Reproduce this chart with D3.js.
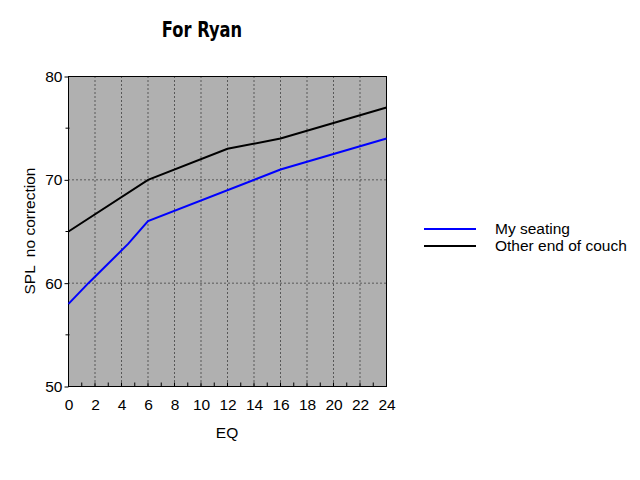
<!DOCTYPE html>
<html>
<head>
<meta charset="utf-8">
<script src="https://cdn.jsdelivr.net/npm/d3@7"></script>
<style>
  body { margin: 0; background: #fff; }
  svg text { font-family: "Liberation Sans", Arial, sans-serif; }
  .title { font-family: "DejaVu Sans", sans-serif; }
</style>
</head>
<body>
<div id="chart"></div>
<script>
// Data
const seatingEQ  = [0, 1.5, 4.5, 6, 16, 24];
const seatingSPL = [58, 60, 63.8, 66, 71, 74];
const couchEQ    = [0, 6, 12, 16, 24];
const couchSPL   = [65, 70, 73, 74, 77];
const seriesNames = ["My seating", "Other end of couch"];
const xTicks = [0, 2, 4, 6, 8, 10, 12, 14, 16, 18, 20, 22, 24];
const yTicks = [50, 60, 70, 80];

const W = 640, H = 480;
const pL = 68.5, pR = 386.5, pT = 76.5, pB = 386.5;

const svg = d3.select("#chart").append("svg").attr("width", W).attr("height", H);

const xS = d3.scaleLinear().domain([0, 24]).range([pL, pR]);
const yS = d3.scaleLinear().domain([50, 80]).range([pB, pT]);

// plot background
svg.append("rect").attr("x", pL).attr("y", pT).attr("width", pR - pL).attr("height", pB - pT)
   .attr("fill", "#b0b0b0");

// dotted grid
xTicks.slice(1, -1).forEach(t => {
  svg.append("line").attr("x1", xS(t)).attr("x2", xS(t)).attr("y1", pT).attr("y2", pB)
     .attr("stroke", "#000").attr("stroke-width", 1).attr("stroke-dasharray", "1,3");
});
yTicks.slice(1, -1).forEach(t => {
  svg.append("line").attr("x1", pL).attr("x2", pR).attr("y1", yS(t)).attr("y2", yS(t))
     .attr("stroke", "#000").attr("stroke-width", 1).attr("stroke-dasharray", "1,3");
});

// border
svg.append("rect").attr("x", pL).attr("y", pT).attr("width", pR - pL).attr("height", pB - pT)
   .attr("fill", "none").attr("stroke", "#000").attr("stroke-width", 1);

// y axis
const yAxis = svg.append("g").attr("transform", `translate(${pL},0)`)
  .call(d3.axisLeft(yS).tickValues(yTicks).tickSize(4).tickPadding(2));
yAxis.select(".domain").remove();
yAxis.selectAll("text").attr("font-size", "15.5px").attr("fill", "#000")
     .attr("font-family", "Liberation Sans, Arial, sans-serif");
// minor y ticks
[55, 65, 75].forEach(t => {
  svg.append("line").attr("x1", pL - 3).attr("x2", pL + 1).attr("y1", yS(t)).attr("y2", yS(t))
     .attr("stroke", "#000");
});

// x axis
const xAxis = svg.append("g").attr("transform", `translate(0,${pB})`)
  .call(d3.axisBottom(xS).tickValues(xTicks).tickSize(0).tickPadding(12));
xAxis.select(".domain").remove();
xAxis.selectAll("text").attr("font-size", "15.5px").attr("fill", "#000")
     .attr("font-family", "Liberation Sans, Arial, sans-serif");
// minor x ticks (inside)
d3.range(1, 24).forEach(t => {
  svg.append("line").attr("x1", xS(t)).attr("x2", xS(t)).attr("y1", pB).attr("y2", pB - 4)
     .attr("stroke", "#000");
});

// lines
const line = d3.line().x(d => xS(d[0])).y(d => yS(d[1]));
const seating = seatingEQ.map((x, i) => [x, seatingSPL[i]]);
const couch   = couchEQ.map((x, i) => [x, couchSPL[i]]);
svg.append("path").datum(couch).attr("d", line).attr("fill", "none")
   .attr("stroke", "#000").attr("stroke-width", 2);
svg.append("path").datum(seating).attr("d", line).attr("fill", "none")
   .attr("stroke", "#0000ff").attr("stroke-width", 2);

// title (condensed look via horizontal squeeze)
svg.append("text").attr("class", "title")
   .attr("transform", "translate(202,37) scale(0.74,1)").attr("text-anchor", "middle")
   .attr("font-size", "22px").attr("font-weight", "bold").text("For Ryan");

// axis titles
svg.append("text").attr("x", 227).attr("y", 438).attr("text-anchor", "middle")
   .attr("font-size", "15.5px").text("EQ");
svg.append("text").attr("transform", `translate(35,231) rotate(-90)`).attr("text-anchor", "middle")
   .attr("font-size", "15.5px").attr("xml:space", "preserve").style("white-space", "pre")
   .text("SPL  no correction");

// legend
const colors = ["#0000ff", "#000"];
seriesNames.forEach((name, i) => {
  const y = 229 + i * 17;
  svg.append("line").attr("x1", 424).attr("x2", 476).attr("y1", y).attr("y2", y)
     .attr("stroke", colors[i]).attr("stroke-width", 2);
  svg.append("text").attr("x", 495).attr("y", y + 5).attr("font-size", "15.5px").text(name);
});
</script>
</body>
</html>
